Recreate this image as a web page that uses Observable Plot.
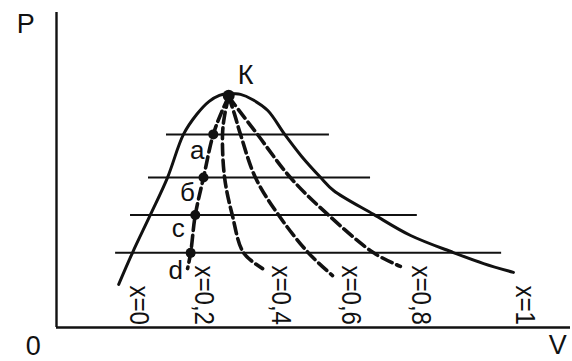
<!DOCTYPE html>
<html>
<head>
<meta charset="utf-8">
<script src="https://cdn.jsdelivr.net/npm/d3@7"></script>
<script src="https://cdn.jsdelivr.net/npm/@observablehq/plot@0.6"></script>
<style>
  html, body { margin: 0; padding: 0; background: #fff; }
  #chart svg { display: block; }
</style>
</head>
<body>
<div id="chart"></div>
<script>
// Saturation dome: left branch (x=0) and right branch (x=1)
const leftV  = [1.21, 1.48, 1.83, 2.16, 2.47, 2.73, 2.97, 3.17, 3.35];
const leftP  = [1.37, 2.38, 3.59, 4.76, 6.13, 6.77, 7.18, 7.37, 7.43];
const rightV = [3.35, 3.58, 3.81, 4.11, 4.44, 4.77, 5.14, 5.39, 6.17, 6.89, 7.72, 8.31, 8.89];
const rightP = [7.43, 7.40, 7.24, 6.89, 6.13, 5.43, 4.76, 4.35, 3.59, 2.92, 2.38, 2.03, 1.75];

// Lines of constant dryness x (dashed)
const q02V = [3.35, 3.21, 3.05, 2.86, 2.70, 2.61, 2.55];
const q02P = [7.33, 6.83, 6.13, 4.76, 3.57, 2.37, 1.87];
const q04V = [3.35, 3.27, 3.23, 3.27, 3.42, 3.64, 4.01];
const q04P = [7.33, 6.73, 6.13, 4.76, 3.57, 2.37, 1.87];
const q06V = [3.35, 3.46, 3.58, 3.87, 4.32, 4.90, 5.37];
const q06P = [7.33, 6.79, 6.13, 4.76, 3.57, 2.37, 1.65];
const q08V = [3.35, 3.58, 3.91, 4.55, 5.29, 6.17, 6.69];
const q08P = [7.33, 6.83, 6.13, 4.76, 3.57, 2.37, 1.94];

// Isobars
const isoP  = [6.13, 4.76, 3.57, 2.37];
const isoV1 = [2.14, 1.79, 1.44, 1.15];
const isoV2 = [5.31, 6.11, 7.02, 8.66];

// Points on x=0.2 and critical point
const ptNames = ["a", "б", "c", "d"];
const ptV = [3.05, 2.86, 2.70, 2.61];
const ptP = [6.13, 4.76, 3.57, 2.37];
const ptLabelV = [2.74, 2.55, 2.37, 2.32];
const ptLabelP = [5.62, 4.29, 3.14, 1.81];
const kV = 3.35, kP = 7.36;

// x labels
const qLabels = ["x=0", "x=0,2", "x=0,4", "x=0,6", "x=0,8", "x=1"];
const qLabelV = [1.60, 2.86, 4.36, 5.72, 7.10, 9.11];
const qLabelP = 0.08;

// Axis labels
const axisLabels = [
  {t: "P", v: -0.60, p: 9.62},
  {t: "0", v: -0.45, p: -0.60},
  {t: "V", v: 9.75, p: -0.57},
  {t: "К", v: 3.68, p: 8.00}
];

const zip = (V, P) => V.map((v, i) => ({v, p: P[i]}));
const dome = [zip(leftV, leftP), zip(rightV, rightP)];
const dashed = [zip(q02V, q02P), zip(q04V, q04P), zip(q06V, q06P), zip(q08V, q08P)];
const isobars = isoP.map((p, i) => ({p, v1: isoV1[i], v2: isoV2[i]}));
const pts = ptNames.map((n, i) => ({n, v: ptV[i], p: ptP[i], lv: ptLabelV[i], lp: ptLabelP[i]}));
const qLab = qLabels.map((t, i) => ({t, v: qLabelV[i], p: qLabelP}));

const font = "'Liberation Sans', Arial, sans-serif";

const chart = Plot.plot({
  width: 572,
  height: 361,
  marginLeft: 56,
  marginRight: 2,
  marginTop: 12,
  marginBottom: 34,
  x: {domain: [0, 10], axis: null},
  y: {domain: [0, 10], axis: null},
  style: {fontFamily: font, background: "#fff", color: "#000"},
  marks: [
    // axes
    Plot.ruleX([0], {y1: 0, y2: 10, stroke: "#111", strokeWidth: 2.4}),
    Plot.ruleY([0], {x1: 0, x2: 10, stroke: "#111", strokeWidth: 2.4}),
    // isobars
    Plot.ruleY(isobars, {y: "p", x1: "v1", x2: "v2", stroke: "#111", strokeWidth: 2}),
    // dome
    ...dome.map(d => Plot.line(d, {x: "v", y: "p", curve: "catmull-rom", stroke: "#111", strokeWidth: 3})),
    // dashed lines
    ...dashed.map(d => Plot.line(d, {x: "v", y: "p", curve: "catmull-rom", stroke: "#111", strokeWidth: 3.6, strokeDasharray: "11,5"})),
    // points
    Plot.dot(pts, {x: "v", y: "p", r: 5, fill: "#111", stroke: "none"}),
    Plot.dot([{v: kV, p: kP}], {x: "v", y: "p", r: 6, fill: "#111", stroke: "none"}),
    // point labels
    Plot.text(pts, {x: "lv", y: "lp", text: "n", fontSize: 26, fill: "#111"}),
    // x labels (rotated)
    Plot.text(qLab, {x: "v", y: "p", text: "t", rotate: 90, textAnchor: "end", lineAnchor: "middle",
      fontSize: 28, fill: "#111"}),
    // axis labels
    Plot.text(axisLabels, {x: "v", y: "p", text: "t", fontSize: 27, fill: "#111"})
  ]
});

document.getElementById("chart").appendChild(chart);

// condense the rotated x-labels like the narrow typeface of the original
d3.select(chart).selectAll("text").each(function () {
  if (this.textContent.startsWith("x=")) {
    const L = this.getComputedTextLength();
    this.setAttribute("textLength", (L * 0.86).toFixed(1));
    this.setAttribute("lengthAdjust", "spacingAndGlyphs");
  }
});
</script>
</body>
</html>
